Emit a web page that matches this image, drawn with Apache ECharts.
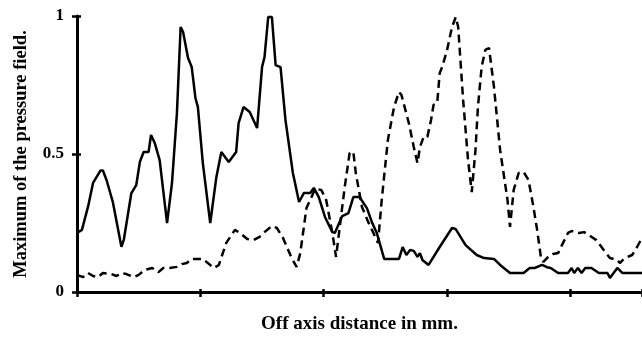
<!DOCTYPE html>
<html>
<head>
<meta charset="utf-8">
<script src="https://cdn.jsdelivr.net/npm/echarts@6/dist/echarts.min.js"></script>
<style>html,body{margin:0;padding:0;background:#fff;}#c{width:642px;height:339px;}</style>
</head>
<body>
<div id="c"></div>
<script>
// Off-axis distance (tick units) and field maxima
var solidX = [0.00,0.04,0.09,0.13,0.19,0.21,0.24,0.29,0.36,0.38,0.44,0.48,0.51,0.54,0.58,0.60,0.63,0.67,0.73,0.77,0.81,0.84,0.86,0.90,0.93,0.96,0.98,1.02,1.08,1.13,1.17,1.23,1.29,1.31,1.35,1.40,1.46,1.50,1.52,1.55,1.58,1.61,1.65,1.69,1.75,1.80,1.84,1.89,1.92,1.96,2.01,2.07,2.09,2.15,2.20,2.24,2.29,2.35,2.39,2.43,2.49,2.61,2.64,2.67,2.70,2.73,2.76,2.78,2.80,2.85,2.94,3.04,3.07,3.15,3.24,3.30,3.38,3.43,3.51,3.62,3.67,3.71,3.77,3.81,3.84,3.90,3.98,4.01,4.03,4.06,4.09,4.12,4.17,4.23,4.30,4.32,4.38,4.42,4.58];
var solidY = [0.214,0.225,0.31,0.395,0.44,0.44,0.405,0.327,0.164,0.19,0.357,0.387,0.472,0.507,0.507,0.569,0.54,0.478,0.25,0.395,0.648,0.96,0.942,0.848,0.815,0.703,0.67,0.467,0.25,0.417,0.507,0.471,0.507,0.612,0.67,0.652,0.594,0.815,0.851,0.996,0.996,0.822,0.815,0.623,0.431,0.326,0.359,0.359,0.377,0.344,0.272,0.217,0.214,0.275,0.286,0.344,0.344,0.304,0.254,0.214,0.12,0.12,0.163,0.134,0.152,0.149,0.127,0.141,0.116,0.098,0.163,0.232,0.228,0.17,0.134,0.123,0.12,0.098,0.069,0.069,0.087,0.087,0.098,0.09,0.087,0.069,0.069,0.087,0.069,0.087,0.069,0.087,0.087,0.069,0.069,0.051,0.087,0.069,0.069];

var dashX = [0.00,0.05,0.09,0.13,0.17,0.21,0.28,0.32,0.36,0.40,0.46,0.50,0.55,0.61,0.66,0.70,0.75,0.81,0.85,0.89,0.93,1.02,1.11,1.15,1.21,1.28,1.32,1.38,1.43,1.48,1.52,1.58,1.62,1.67,1.74,1.78,1.81,1.86,1.89,1.93,1.98,2.02,2.07,2.10,2.13,2.17,2.21,2.24,2.26,2.31,2.36,2.44,2.47,2.52,2.57,2.61,2.63,2.69,2.73,2.76,2.78,2.81,2.84,2.87,2.89,2.92,2.94,2.96,3.00,3.04,3.07,3.09,3.13,3.17,3.20,3.23,3.25,3.28,3.31,3.34,3.38,3.43,3.49,3.51,3.54,3.58,3.62,3.66,3.70,3.73,3.76,3.78,3.82,3.86,3.90,3.94,3.98,4.01,4.07,4.11,4.16,4.21,4.27,4.32,4.38,4.40,4.44,4.50,4.54,4.57,4.58];
var dashY = [0.062,0.054,0.069,0.058,0.054,0.069,0.065,0.058,0.069,0.065,0.054,0.062,0.08,0.087,0.072,0.087,0.087,0.091,0.101,0.105,0.12,0.12,0.087,0.098,0.178,0.225,0.214,0.192,0.188,0.2,0.217,0.239,0.232,0.196,0.123,0.091,0.141,0.304,0.333,0.373,0.37,0.333,0.214,0.127,0.236,0.38,0.504,0.507,0.431,0.308,0.254,0.178,0.333,0.551,0.67,0.725,0.714,0.612,0.525,0.467,0.525,0.562,0.562,0.623,0.678,0.685,0.793,0.815,0.877,0.96,0.996,0.96,0.696,0.478,0.362,0.514,0.67,0.815,0.877,0.884,0.743,0.514,0.333,0.236,0.37,0.431,0.435,0.406,0.308,0.225,0.127,0.109,0.127,0.138,0.141,0.178,0.214,0.221,0.214,0.217,0.203,0.188,0.152,0.123,0.116,0.105,0.123,0.134,0.163,0.188,0.192];

var yTickLabels = ['0', '0.5', '1'];

function pairs(xs, ys) { return xs.map(function (x, i) { return [x, ys[i]]; }); }

var serif = '"Liberation Serif", "DejaVu Serif", serif';
var chart = echarts.init(document.getElementById('c'), null, {renderer: 'canvas'});
chart.setOption({
  backgroundColor: '#fff',
  animation: false,
  grid: {left: 77, right: 0, top: 16, bottom: 47, containLabel: false},
  xAxis: [{
    type: 'value', min: 0, max: 4.58, interval: 1, position: 'bottom',
    name: 'Off axis distance in mm.', nameLocation: 'middle', nameGap: 23,
    nameTextStyle: {fontFamily: serif, fontWeight: 'bold', fontSize: 19, color: '#000'},
    axisLine: {show: true, onZero: false, lineStyle: {color: '#000', width: 3}},
    axisTick: {show: true, length: 5, lineStyle: {color: '#000', width: 2.5}},
    axisLabel: {show: false},
    splitLine: {show: false}
  }, {
    type: 'value', min: 0, max: 4.58, interval: 1, position: 'top',
    axisLine: {show: false, onZero: true},
    axisTick: {show: true, inside: false, length: 3, lineStyle: {color: '#000', width: 2.5}},
    axisLabel: {show: false}, splitLine: {show: false}
  }],
  yAxis: [{
    type: 'value', min: 0, max: 1, interval: 0.5, position: 'left',
    name: 'Maximum of the pressure field.', nameLocation: 'middle', nameGap: 46,
    nameTextStyle: {fontFamily: serif, fontWeight: 'bold', fontSize: 18.5, color: '#000'},
    axisLine: {show: true, onZero: false, lineStyle: {color: '#000', width: 3}},
    axisTick: {show: true, length: 5, lineStyle: {color: '#000', width: 2.5}},
    axisLabel: {show: true, margin: 13, fontFamily: serif, fontWeight: 'bold', fontSize: 17, color: '#000',
      formatter: function (v) { return yTickLabels[Math.round(v * 2)]; }},
    splitLine: {show: false}
  }, {
    type: 'value', min: 0, max: 1, interval: 0.5, position: 'right',
    axisLine: {show: false, onZero: true},
    axisTick: {show: true, inside: false, length: 4, lineStyle: {color: '#000', width: 2.5}},
    axisLabel: {show: false}, splitLine: {show: false}
  }],
  series: [{
    type: 'line', xAxisIndex: 0, yAxisIndex: 0, data: pairs(solidX, solidY),
    symbol: 'none', smooth: false,
    lineStyle: {color: '#000', width: 2.5, type: 'solid'}
  }, {
    type: 'line', xAxisIndex: 0, yAxisIndex: 0, data: pairs(dashX, dashY),
    symbol: 'none', smooth: false,
    lineStyle: {color: '#000', width: 2.5, type: [8, 5]}
  }]
});
</script>
</body>
</html>
